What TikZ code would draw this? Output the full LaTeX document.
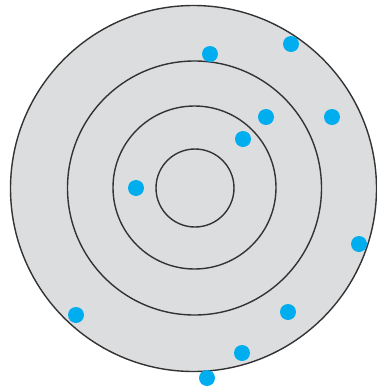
\documentclass[tikz,border=0pt]{standalone}
\definecolor{ringfill}{HTML}{DCDDDF}
\definecolor{dotblue}{HTML}{00AEEF}
\definecolor{ringline}{HTML}{333333}
\begin{document}
\begin{tikzpicture}[x=1pt,y=-1pt,
  ring/.style={draw=ringline,line width=1.4pt},
  dot/.style={fill=dotblue}]
\useasboundingbox (0,0) rectangle (376,389);
\fill[ringfill] (193.5,188.5) circle (183);
\draw[ring] (193.5,188.5) circle (183);
\draw[ring] (194.5,188) circle (127);
\draw[ring] (194.5,187.5) circle (81.5);
\draw[ring] (195,188) circle (39);
\foreach \p in {(210,54),(291,44),(266,117),(332,117),(243,139),(136,188),(359,244),(76,315),(288,312),(242,353),(207,378)}
  \fill[dot] \p circle (8);
\end{tikzpicture}
\end{document}
